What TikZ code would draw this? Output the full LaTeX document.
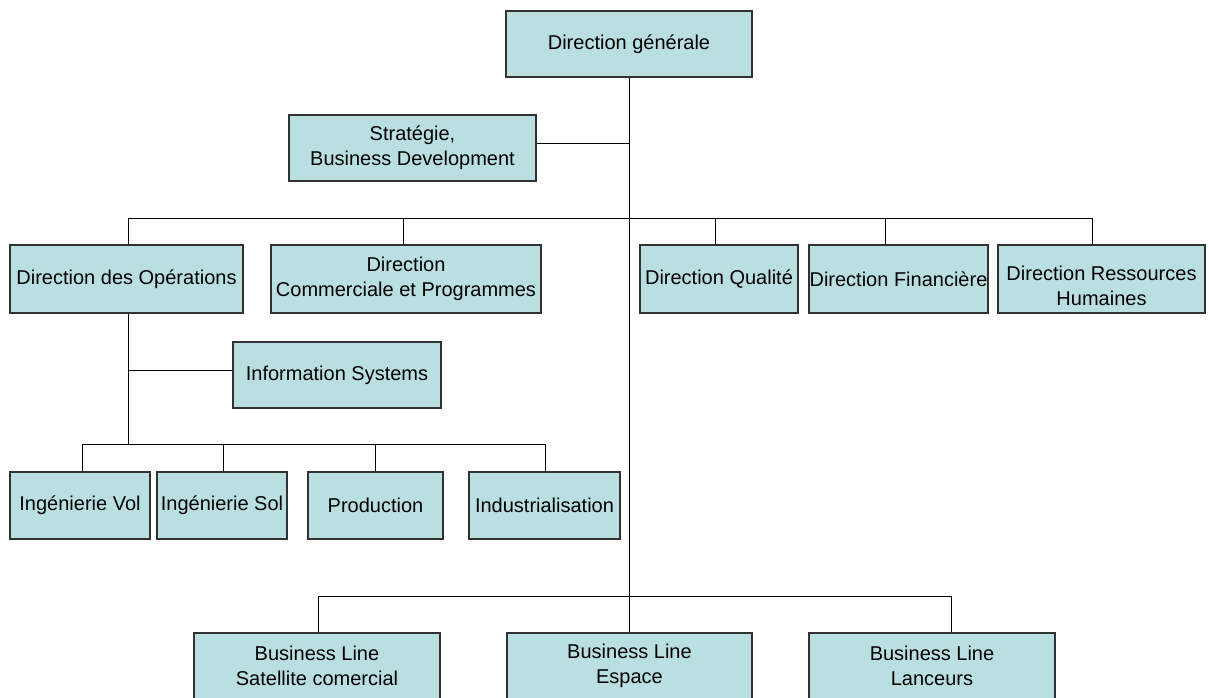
\documentclass[tikz,border=0pt]{standalone}
\usepackage{fontspec}
\setmainfont{Liberation Sans}
\definecolor{boxfill}{RGB}{186,223,225}
\definecolor{boxline}{RGB}{50,50,50}
\begin{document}
\begin{tikzpicture}[x=0.5pt,y=-0.5pt,
  box/.style={draw=boxline,fill=boxfill,line width=0.65pt,rectangle,inner sep=0pt,
    align=center,font=\fontsize{10}{12.5}\selectfont,text=black},
  conn/.style={draw=black,line width=0.5pt},
  txt/.style={align=center,font=\fontsize{10}{12.5}\selectfont,inner sep=0pt}]
\useasboundingbox (0,0) rectangle (1209,697);
\clip (0,0) rectangle (1209,697);
\fill[white] (0,0) rectangle (1209,697);

% boxes
\node[box,minimum width=123pt,minimum height=33pt] (dg) at (629,44) {Direction générale};
\node[box,minimum width=123.5pt,minimum height=33pt] (strat) at (412.5,148) {Stratégie,\\Business Development};

\node[box,minimum width=116.5pt,minimum height=34pt] (ops) at (126.5,279) {Direction des Opérations};
\node[box,minimum width=135pt,minimum height=34pt] (com) at (406,279) {Direction\\Commerciale et Programmes};
\node[box,minimum width=79pt,minimum height=34pt] (qual) at (719,279) {Direction Qualité};
\node[box,minimum width=89.5pt,minimum height=34pt] (fin) at (898.5,279) {Direction Financière};
\node[box,minimum width=103.5pt,minimum height=34pt] (rh) at (1101.5,279) {};
\node[txt] (rhtxt) at (1101.5,286) {Direction Ressources\\Humaines};

\node[box,minimum width=104pt,minimum height=33pt] (is) at (337,375) {Information Systems};

\node[box,minimum width=70pt,minimum height=33.5pt] (vol) at (80,505.5) {Ingénierie Vol};
\node[box,minimum width=65pt,minimum height=33.5pt] (sol) at (222,505.5) {Ingénierie Sol};
\node[box,minimum width=67.5pt,minimum height=33.5pt] (prod) at (375.5,505.5) {Production};
\node[box,minimum width=75.5pt,minimum height=33.5pt] (ind) at (544.5,505.5) {Industrialisation};

\node[box,minimum width=123pt,minimum height=33pt] (bl1) at (317,666) {Business Line\\Satellite comercial};
\node[box,minimum width=122.5pt,minimum height=33pt] (bl2) at (629.5,666) {Business Line\\Espace};
\node[box,minimum width=123pt,minimum height=33pt] (bl3) at (932,666) {Business Line\\Lanceurs};

% connector coordinates
\coordinate (trunkB) at (629,596);
\coordinate (stratc) at (629,143);
\coordinate (busOps) at (128,218);
\coordinate (busCom) at (403,218);
\coordinate (busQual) at (715,218);
\coordinate (busFin) at (885,218);
\coordinate (busRh) at (1092,218);
\coordinate (isc) at (128,370);
\coordinate (opsB) at (128,444);
\coordinate (subVol) at (82,444);
\coordinate (subSol) at (223,444);
\coordinate (subProd) at (375,444);
\coordinate (subInd) at (545,444);
\coordinate (blA) at (318,596);
\coordinate (blC) at (951,596);

% main trunk
\draw[conn] (dg.south) -- (trunkB);
\draw[conn] (stratc) -- (strat.east |- stratc);
\draw[conn] (busOps) -- (busRh);
\draw[conn] (busOps) -- (ops.north -| busOps);
\draw[conn] (busCom) -- (com.north -| busCom);
\draw[conn] (busQual) -- (qual.north -| busQual);
\draw[conn] (busFin) -- (fin.north -| busFin);
\draw[conn] (busRh) -- (rh.north -| busRh);

% operations sub-tree
\draw[conn] (ops.south -| opsB) -- (opsB);
\draw[conn] (isc) -- (is.west |- isc);
\draw[conn] (subVol) -- (subInd);
\draw[conn] (subVol) -- (vol.north -| subVol);
\draw[conn] (subSol) -- (sol.north -| subSol);
\draw[conn] (subProd) -- (prod.north -| subProd);
\draw[conn] (subInd) -- (ind.north -| subInd);

% business lines
\draw[conn] (blA) -- (blC);
\draw[conn] (blA) -- (bl1.north -| blA);
\draw[conn] (trunkB) -- (bl2.north -| trunkB);
\draw[conn] (blC) -- (bl3.north -| blC);
\end{tikzpicture}
\end{document}
